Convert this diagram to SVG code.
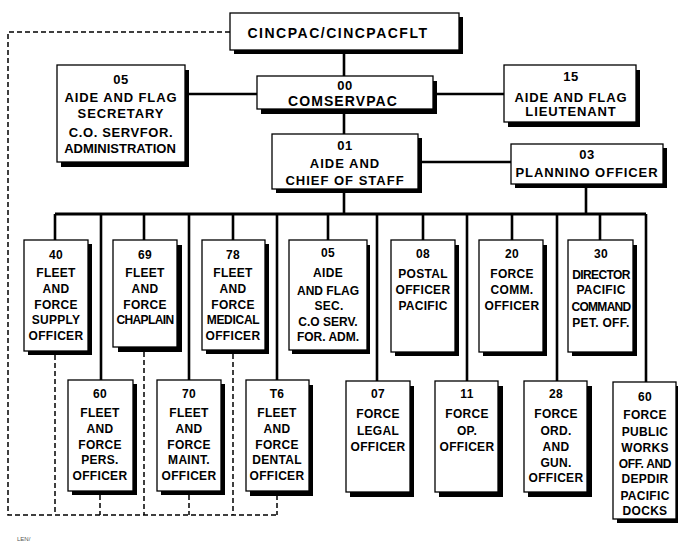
<svg xmlns="http://www.w3.org/2000/svg" width="678" height="543" viewBox="0 0 678 543">
<style>
.bg{fill:#ffffff}
.sh{fill:#000000}
.bx{fill:#ffffff;stroke:#000000;stroke-width:1.3}
.t{font-family:"Liberation Sans","Arial",sans-serif;font-weight:bold;fill:#000000;text-anchor:middle}
.big{font-size:14px;letter-spacing:1.2px}
.mid{font-size:13px;letter-spacing:0.6px}
.sm{font-size:12px;letter-spacing:0.3px}
.ln{stroke:#000000;stroke-width:2.6;fill:none}
.bus{stroke:#000000;stroke-width:3.2;fill:none}
.ds{stroke:#000000;stroke-width:1.5;stroke-dasharray:5 3;fill:none}
</style>
<rect class="bg" x="0" y="0" width="678" height="543"/>
<g id="connectors">
<path class="ds" d="M230,32 H8 V515 H277"/>
<path class="ds" d="M55,355 V515 M144,352 V515 M233,354 V515 M100,495 V515 M189,495 V515 M277,495 V515"/>
<path class="ln" d="M344,54 V76 M344,113 V134 M187,94 H257 M437,94 H504 M421,162 H511 M344,193 V214 M586,188 V214"/>
<path class="bus" d="M55,214 H646"/>
<path class="ln" d="M55,214 V240 M144,214 V240 M233,214 V240 M328,214 V240 M423,214 V240 M512,214 V240 M600,214 V240"/>
<path class="ln" d="M101,214 V380 M189,214 V380 M277,214 V380 M377,214 V381 M467,214 V381 M557,214 V381 M646,214 V382"/>
</g>
<g id="n-cincpac">
<rect class="sh" x="234" y="17" width="229" height="37"/>
<rect class="bx" x="230" y="13" width="229" height="37"/>
<text class="t big" x="338" y="38" style="letter-spacing:1.5px">CINCPAC/CINCPACFLT</text>
</g>
<g id="n-00">
<rect class="sh" x="261" y="81" width="176" height="33"/>
<rect class="bx" x="257" y="76" width="176" height="33"/>
<text class="t mid" x="345" y="90">00</text>
<text class="t big" x="343" y="106" style="letter-spacing:1.1px">COMSERVPAC</text>
</g>
<g id="n-05top">
<rect class="sh" x="61" y="70" width="128" height="97"/>
<rect class="bx" x="57" y="65" width="128" height="97"/>
<text class="t mid" x="121" y="84">05</text>
<text class="t mid" x="121" y="102" style="letter-spacing:0.9px">AIDE AND FLAG</text>
<text class="t mid" x="121" y="118" style="letter-spacing:0.9px">SECRETARY</text>
<text class="t mid" x="121" y="137">C.O. SERVFOR.</text>
<text class="t mid" x="120" y="153" style="letter-spacing:0px">ADMINISTRATION</text>
</g>
<g id="n-15">
<rect class="sh" x="508" y="70" width="132" height="57"/>
<rect class="bx" x="504" y="65" width="132" height="57"/>
<text class="t mid" x="571" y="81">15</text>
<text class="t mid" x="571" y="102" style="letter-spacing:0.9px">AIDE AND FLAG</text>
<text class="t mid" x="571" y="116" style="letter-spacing:0.9px">LIEUTENANT</text>
</g>
<g id="n-01">
<rect class="sh" x="276" y="138" width="146" height="55"/>
<rect class="bx" x="272" y="134" width="146" height="55"/>
<text class="t mid" x="345" y="150">01</text>
<text class="t mid" x="345" y="168" style="letter-spacing:1px">AIDE AND</text>
<text class="t mid" x="345" y="185" style="letter-spacing:1px">CHIEF OF STAFF</text>
</g>
<g id="n-03">
<rect class="sh" x="515" y="148" width="152" height="40"/>
<rect class="bx" x="511" y="144" width="152" height="40"/>
<text class="t mid" x="587" y="159">03</text>
<text class="t mid" x="587" y="177" style="letter-spacing:0.9px">PLANNINO OFFICER</text>
</g>
<g id="n-40">
<rect class="sh" x="28" y="244" width="64" height="111"/>
<rect class="bx" x="24" y="240" width="64" height="111"/>
<text class="t sm" x="56" y="259">40</text>
<text class="t sm" x="56" y="277">FLEET</text>
<text class="t sm" x="56" y="293">AND</text>
<text class="t sm" x="56" y="309">FORCE</text>
<text class="t sm" x="56" y="324">SUPPLY</text>
<text class="t sm" x="56" y="340">OFFICER</text>
</g>
<g id="n-69">
<rect class="sh" x="118" y="245" width="64" height="107"/>
<rect class="bx" x="113" y="240" width="64" height="107"/>
<text class="t sm" x="145" y="259">69</text>
<text class="t sm" x="145" y="277">FLEET</text>
<text class="t sm" x="145" y="293">AND</text>
<text class="t sm" x="145" y="309">FORCE</text>
<text class="t sm" x="145" y="324" style="letter-spacing:-0.6px">CHAPLAIN</text>
</g>
<g id="n-78">
<rect class="sh" x="206" y="244" width="63" height="110"/>
<rect class="bx" x="202" y="240" width="63" height="110"/>
<text class="t sm" x="233" y="259">78</text>
<text class="t sm" x="233" y="277">FLEET</text>
<text class="t sm" x="233" y="293">AND</text>
<text class="t sm" x="233" y="309">FORCE</text>
<text class="t sm" x="233" y="324" style="letter-spacing:-0.3px">MEDICAL</text>
<text class="t sm" x="233" y="340">OFFICER</text>
</g>
<g id="n-05">
<rect class="sh" x="292" y="245" width="78" height="109"/>
<rect class="bx" x="289" y="240" width="78" height="110"/>
<text class="t sm" x="328" y="257">05</text>
<text class="t sm" x="328" y="277">AIDE</text>
<text class="t sm" x="328" y="295" style="letter-spacing:0px">AND FLAG</text>
<text class="t sm" x="329" y="310">SEC.</text>
<text class="t sm" x="328" y="326" style="letter-spacing:0px">C.O SERV.</text>
<text class="t sm" x="328" y="341" style="letter-spacing:0px">FOR. ADM.</text>
</g>
<g id="n-08">
<rect class="sh" x="395" y="245" width="64" height="111"/>
<rect class="bx" x="391" y="240" width="64" height="112"/>
<text class="t sm" x="423" y="258">08</text>
<text class="t sm" x="423" y="278">POSTAL</text>
<text class="t sm" x="423" y="294">OFFICER</text>
<text class="t sm" x="423" y="310">PACIFIC</text>
</g>
<g id="n-20">
<rect class="sh" x="483" y="245" width="64" height="111"/>
<rect class="bx" x="479" y="240" width="64" height="112"/>
<text class="t sm" x="512" y="258">20</text>
<text class="t sm" x="512" y="278">FORCE</text>
<text class="t sm" x="512" y="294">COMM.</text>
<text class="t sm" x="512" y="310">OFFICER</text>
</g>
<g id="n-30">
<rect class="sh" x="572" y="245" width="65" height="111"/>
<rect class="bx" x="568" y="240" width="65" height="112"/>
<text class="t sm" x="601" y="258">30</text>
<text class="t sm" x="601" y="279" style="letter-spacing:-0.6px">DIRECTOR</text>
<text class="t sm" x="601" y="294">PACIFIC</text>
<text class="t sm" x="601" y="311" style="letter-spacing:-0.7px">COMMAND</text>
<text class="t sm" x="601" y="327">PET. OFF.</text>
</g>
<g id="n-60">
<rect class="sh" x="72" y="384" width="65" height="111"/>
<rect class="bx" x="68" y="380" width="65" height="111"/>
<text class="t sm" x="100" y="398">60</text>
<text class="t sm" x="100" y="417">FLEET</text>
<text class="t sm" x="100" y="433">AND</text>
<text class="t sm" x="100" y="449">FORCE</text>
<text class="t sm" x="100" y="464">PERS.</text>
<text class="t sm" x="100" y="480">OFFICER</text>
</g>
<g id="n-70">
<rect class="sh" x="161" y="384" width="64" height="111"/>
<rect class="bx" x="157" y="380" width="64" height="111"/>
<text class="t sm" x="189" y="398">70</text>
<text class="t sm" x="189" y="417">FLEET</text>
<text class="t sm" x="189" y="433">AND</text>
<text class="t sm" x="189" y="449">FORCE</text>
<text class="t sm" x="189" y="464">MAINT.</text>
<text class="t sm" x="189" y="480">OFFICER</text>
</g>
<g id="n-76">
<rect class="sh" x="250" y="385" width="63" height="111"/>
<rect class="bx" x="246" y="380" width="63" height="111"/>
<text class="t sm" x="277" y="398">T6</text>
<text class="t sm" x="277" y="417">FLEET</text>
<text class="t sm" x="277" y="433">AND</text>
<text class="t sm" x="277" y="449">FORCE</text>
<text class="t sm" x="277" y="464">DENTAL</text>
<text class="t sm" x="277" y="480">OFFICER</text>
</g>
<g id="n-07">
<rect class="sh" x="350" y="386" width="64" height="111"/>
<rect class="bx" x="346" y="381" width="64" height="111"/>
<text class="t sm" x="378" y="398">07</text>
<text class="t sm" x="378" y="418">FORCE</text>
<text class="t sm" x="378" y="435">LEGAL</text>
<text class="t sm" x="378" y="451">OFFICER</text>
</g>
<g id="n-11">
<rect class="sh" x="439" y="386" width="64" height="111"/>
<rect class="bx" x="435" y="381" width="63" height="111"/>
<text class="t sm" x="467" y="398">11</text>
<text class="t sm" x="467" y="418">FORCE</text>
<text class="t sm" x="467" y="435">OP.</text>
<text class="t sm" x="467" y="451">OFFICER</text>
</g>
<g id="n-28">
<rect class="sh" x="528" y="386" width="64" height="111"/>
<rect class="bx" x="524" y="381" width="63" height="111"/>
<text class="t sm" x="556" y="398">28</text>
<text class="t sm" x="556" y="418">FORCE</text>
<text class="t sm" x="556" y="435">ORD.</text>
<text class="t sm" x="556" y="451">AND</text>
<text class="t sm" x="556" y="467">GUN.</text>
<text class="t sm" x="556" y="482">OFFICER</text>
</g>
<g id="n-60r">
<rect class="sh" x="617" y="386" width="64" height="137"/>
<rect class="bx" x="613" y="382" width="63" height="137"/>
<text class="t sm" x="645" y="401">60</text>
<text class="t sm" x="645" y="419">FORCE</text>
<text class="t sm" x="645" y="436">PUBLIC</text>
<text class="t sm" x="645" y="452">WORKS</text>
<text class="t sm" x="645" y="468" style="letter-spacing:-0.3px">OFF. AND</text>
<text class="t sm" x="645" y="483">DEPDIR</text>
<text class="t sm" x="645" y="500">PACIFIC</text>
<text class="t sm" x="645" y="515">DOCKS</text>
</g>
<text x="17" y="541" font-family="Liberation Sans, Arial, sans-serif" font-size="6" fill="#555555">LEN/</text>
</svg>
